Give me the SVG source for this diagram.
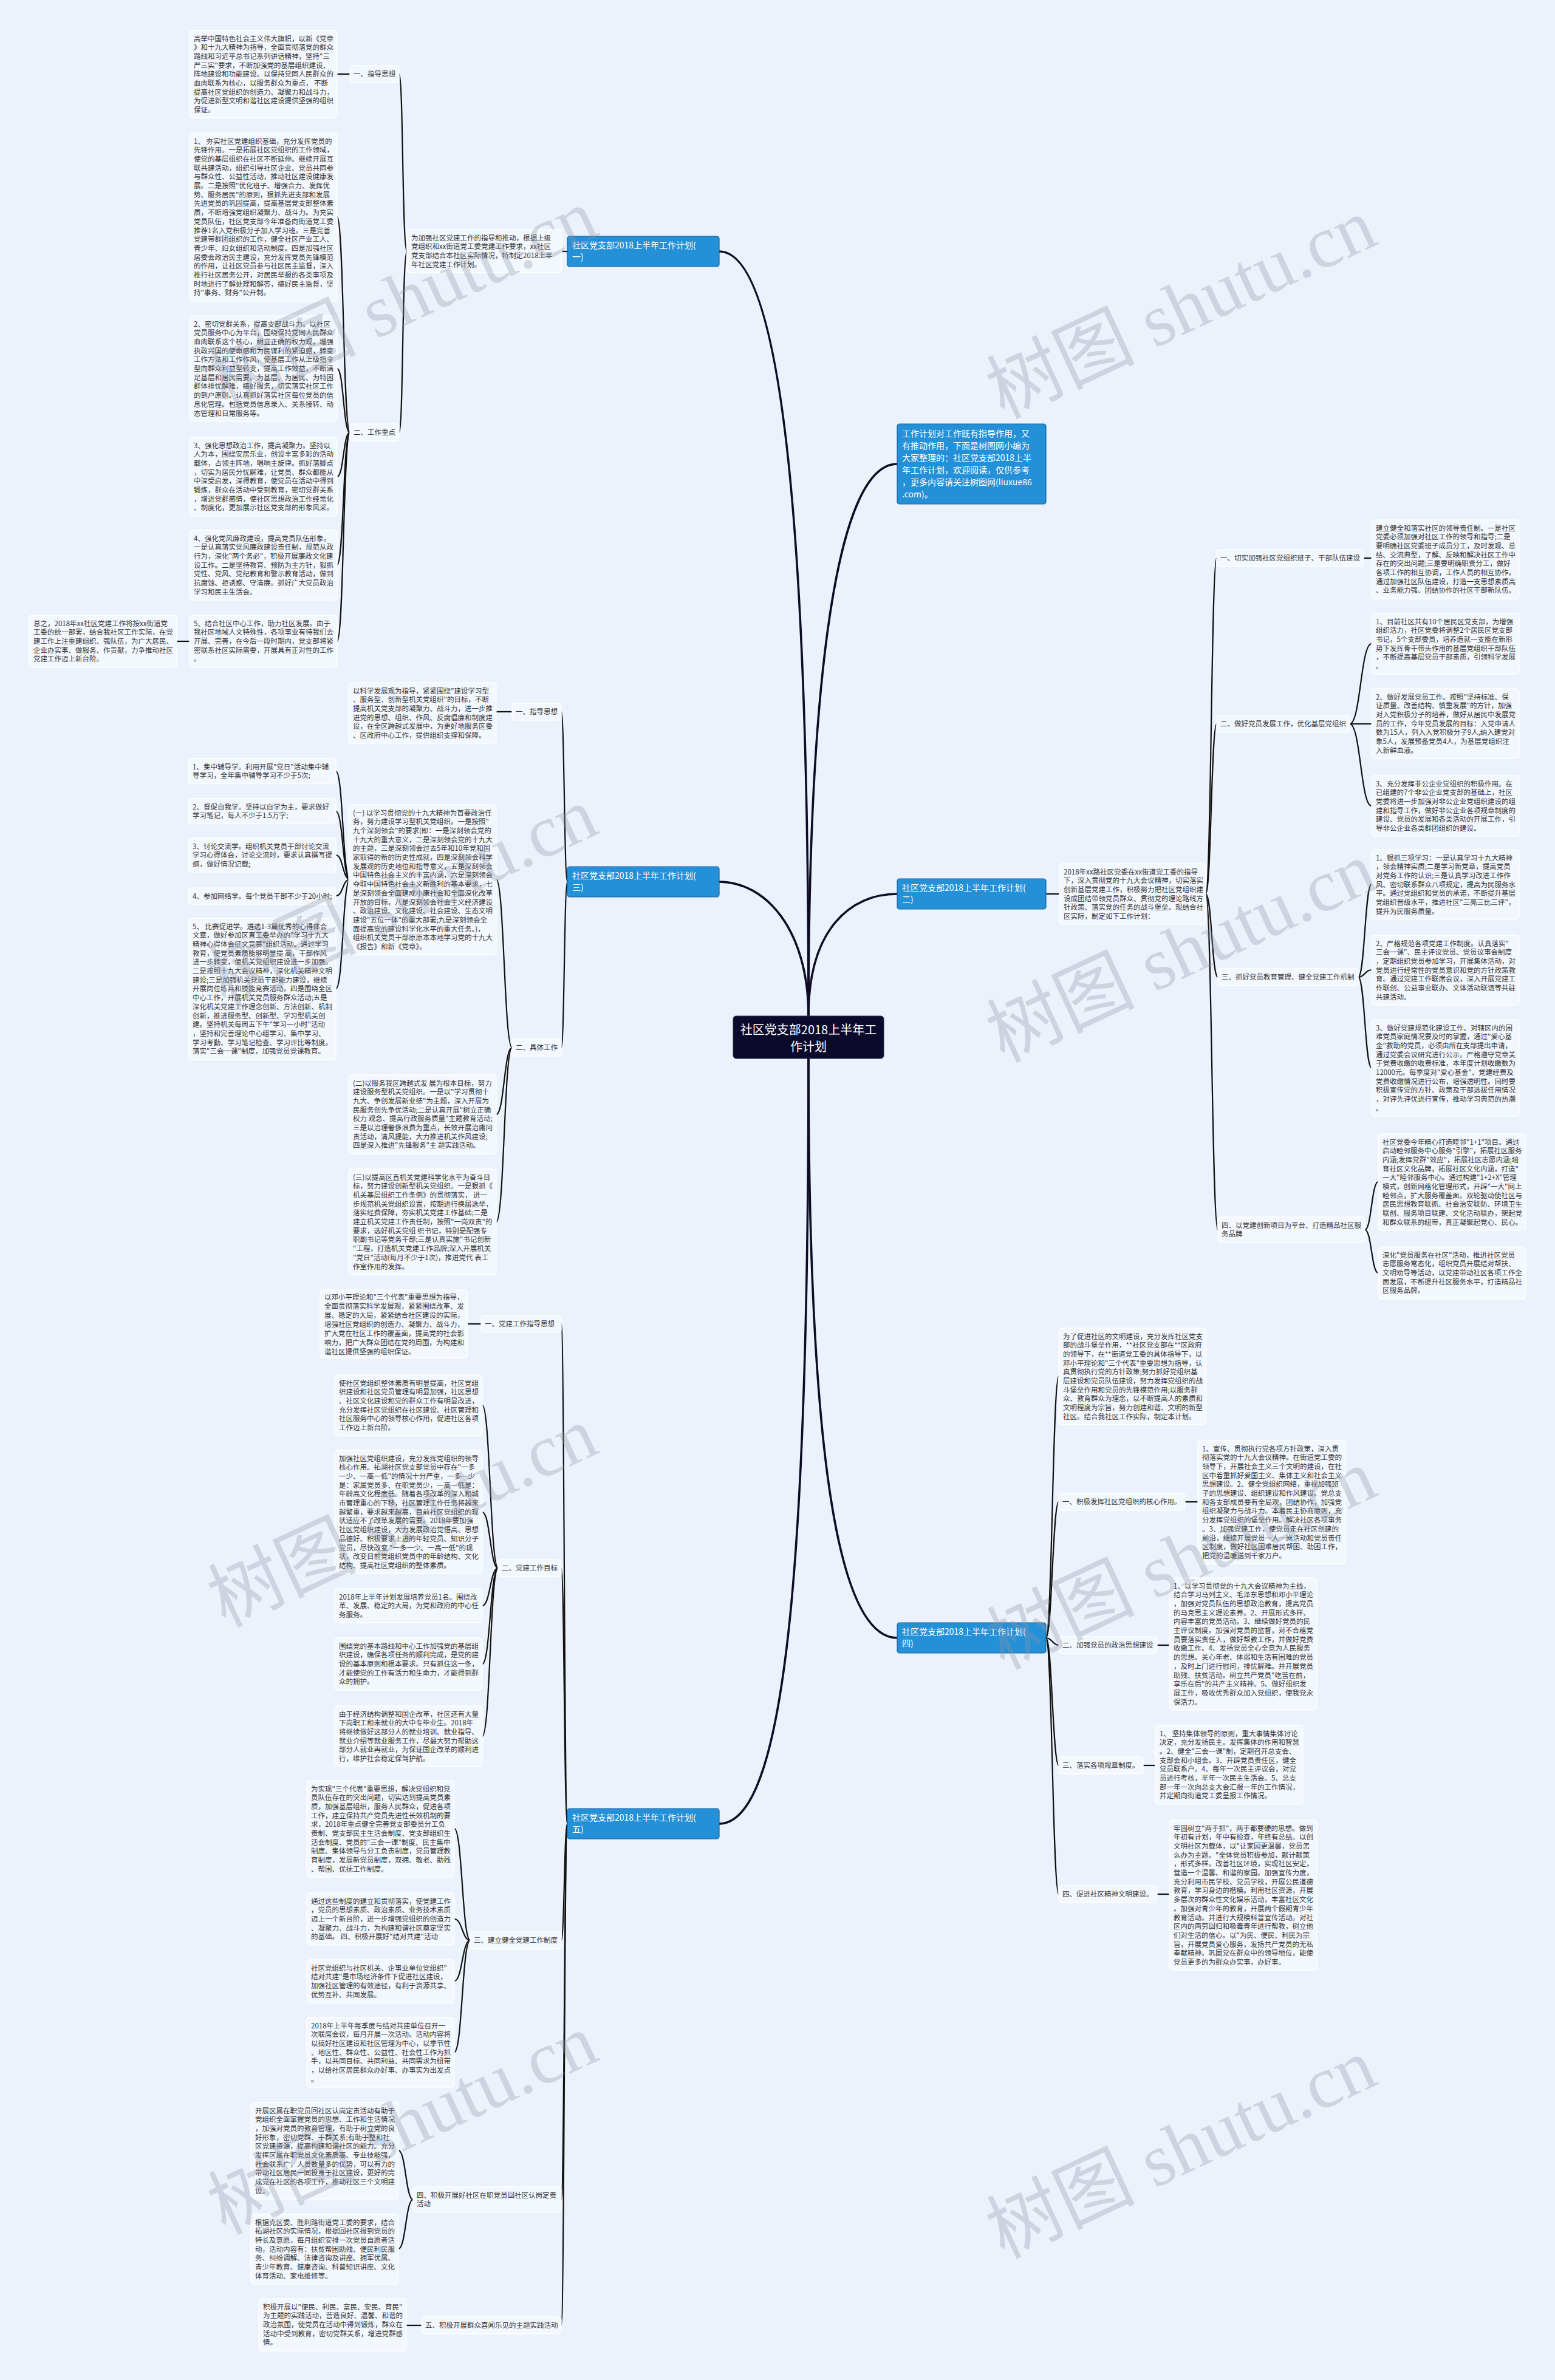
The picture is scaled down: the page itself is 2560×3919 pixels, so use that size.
<svg xmlns="http://www.w3.org/2000/svg" width="2560" height="3919" viewBox="0 0 2560 3919">
<style>
.t{font-family:"Noto Sans CJK SC","Noto Sans",sans-serif;font-size:11.5px;fill:#333}
.b{fill:#f3f7fe;stroke:#ffffff;stroke-width:1.3}
.n{fill:#2490d8;stroke:#16639c;stroke-width:1.2}
.nt{font-family:"Noto Sans CJK SC","Noto Sans",sans-serif;font-size:14px;fill:#fff}
.c{fill:none;stroke:#111;stroke-width:2.2}
.m{fill:none;stroke:#0e0c24;stroke-width:3.6}
.w{font-family:"Liberation Serif","Noto Sans CJK SC",serif;font-size:122px;fill:#8e97a8;opacity:.32}
</style>
<rect width="2560" height="3919" fill="#ecf2fc"/>

<g id="connectors">
<path class="m" d="M1331,1673 C1331,900 1290,414 1184,414"/>
<path class="m" d="M1331,1673 C1331,1100 1380,764 1477,764"/>
<path class="m" d="M1331,1673 C1331,1530 1260,1452 1184,1452"/>
<path class="m" d="M1331,1673 C1331,1530 1400,1472 1477,1472"/>
<path class="m" d="M1331,1743 C1331,2600 1290,3003 1184,3003"/>
<path class="m" d="M1331,1743 C1331,2400 1380,2697 1477,2697"/>
<path class="c" d="M925,414 L934,414"/>
<path class="c" d="M670,414 C662,414 664,122 657,122"/>
<path class="c" d="M670,414 C662,414 664,712 657,712"/>
<path class="c" d="M576,122 L555,122"/>
<path class="c" d="M576,712 C565,712 566,357 555,357"/>
<path class="c" d="M576,712 C565,712 566,607 555,607"/>
<path class="c" d="M576,712 C565,712 566,785 555,785"/>
<path class="c" d="M576,712 C565,712 566,930 555,930"/>
<path class="c" d="M576,712 C565,712 566,1056 555,1056"/>
<path class="c" d="M312,1056 L291,1056"/>
<path class="c" d="M924,1172 C929,1172 929,1452 934,1452"/>
<path class="c" d="M924,1725 C929,1725 929,1452 934,1452"/>
<path class="c" d="M817,1172 L843,1172"/>
<path class="c" d="M843,1725 C830,1725 830,1448 817,1448"/>
<path class="c" d="M843,1725 C830,1725 830,1835 817,1835"/>
<path class="c" d="M843,1725 C830,1725 830,2012 817,2012"/>
<path class="c" d="M576,1448 C564,1448 565,1270 553,1270"/>
<path class="c" d="M576,1448 C564,1448 565,1336 553,1336"/>
<path class="c" d="M576,1448 C564,1448 565,1408 553,1408"/>
<path class="c" d="M576,1448 C564,1448 565,1475 553,1475"/>
<path class="c" d="M576,1448 C564,1448 565,1628 553,1628"/>
<path class="c" d="M924,2180 C929,2180 929,3003 934,3003"/>
<path class="c" d="M924,2582 C929,2582 929,3003 934,3003"/>
<path class="c" d="M924,3195 C929,3195 929,3003 934,3003"/>
<path class="c" d="M924,3622 C929,3622 929,3003 934,3003"/>
<path class="c" d="M924,3829 C929,3829 929,3003 934,3003"/>
<path class="c" d="M770,2180 L792,2180"/>
<path class="c" d="M820,2582 C807,2582 807,2314 794,2314"/>
<path class="c" d="M820,2582 C807,2582 807,2490 794,2490"/>
<path class="c" d="M820,2582 C807,2582 807,2644 794,2644"/>
<path class="c" d="M820,2582 C807,2582 807,2740 794,2740"/>
<path class="c" d="M820,2582 C807,2582 807,2859 794,2859"/>
<path class="c" d="M774,3195 C761,3195 761,3011 748,3011"/>
<path class="c" d="M774,3195 C761,3195 761,3160 748,3160"/>
<path class="c" d="M774,3195 C761,3195 761,3262 748,3262"/>
<path class="c" d="M774,3195 C761,3195 761,3379 748,3379"/>
<path class="c" d="M680,3622 C668,3622 668,3541 656,3541"/>
<path class="c" d="M680,3622 C668,3622 668,3703 656,3703"/>
<path class="c" d="M694,3829 L669,3829"/>
<path class="c" d="M1722,1472 L1744,1472"/>
<path class="c" d="M1985,1472 C1994,1472 1994,919 2003,919"/>
<path class="c" d="M1985,1472 C1994,1472 1994,1192 2003,1192"/>
<path class="c" d="M1985,1472 C1995,1472 1995,1609 2005,1609"/>
<path class="c" d="M1985,1472 C1995,1472 1995,2025 2005,2025"/>
<path class="c" d="M2245,919 L2258,919"/>
<path class="c" d="M2222,1192 C2240,1192 2240,1060 2258,1060"/>
<path class="c" d="M2222,1192 L2258,1192"/>
<path class="c" d="M2222,1192 C2240,1192 2240,1327 2258,1327"/>
<path class="c" d="M2236,1609 C2247,1609 2247,1456 2258,1456"/>
<path class="c" d="M2236,1609 C2247,1609 2247,1597 2258,1597"/>
<path class="c" d="M2236,1609 C2247,1609 2247,1758 2258,1758"/>
<path class="c" d="M2247,2025 C2258,2025 2258,1946 2269,1946"/>
<path class="c" d="M2247,2025 C2258,2025 2258,2096 2269,2096"/>
<path class="c" d="M1722,2697 C1732,2697 1733,2266 1743,2266"/>
<path class="c" d="M1722,2697 C1732,2697 1733,2473 1743,2473"/>
<path class="c" d="M1722,2697 C1732,2697 1733,2709 1743,2709"/>
<path class="c" d="M1722,2697 C1732,2697 1733,2907 1743,2907"/>
<path class="c" d="M1722,2697 C1732,2697 1733,3119 1743,3119"/>
<path class="c" d="M1951,2473 L1972,2473"/>
<path class="c" d="M1905,2709 L1925,2709"/>
<path class="c" d="M1882,2907 L1902,2907"/>
<path class="c" d="M1905,3119 L1925,3119"/>
</g>

<g id="center">
<rect x="1207" y="1673" width="248" height="70" rx="5" fill="#0c0a2c" stroke="#2a2a44"/>
<text font-family="Noto Sans CJK SC, sans-serif" font-size="20" fill="#fff" text-anchor="middle"><tspan x="1331" y="1703">社区党支部2018上半年工</tspan><tspan x="1331" y="1731">作计划</tspan></text>
</g>

<g id="intro">
<rect class="n" x="1477" y="698" width="245" height="132" rx="4"/>
<text class="nt"><tspan x="1485" y="719">工作计划对工作既有指导作用，又</tspan><tspan x="1485" dy="20">有推动作用，下面是树图网小编为</tspan><tspan x="1485" dy="20">大家整理的：社区党支部2018上半</tspan><tspan x="1485" dy="20">年工作计划，欢迎阅读，仅供参考</tspan><tspan x="1485" dy="20">，更多内容请关注树图网(liuxue86</tspan><tspan x="1485" dy="20">.com)。</tspan></text>
</g>

<g id="branch1">
<rect class="n" x="934" y="389" width="250" height="50" rx="4"/>
<text class="nt"><tspan x="942" y="409">社区党支部2018上半年工作计划(</tspan><tspan x="942" dy="19">一)</tspan></text>
</g>
<g id="b1-mid">
<rect class="b" x="670" y="378" width="255" height="71" rx="5"/>
<text class="t"><tspan x="677" y="395.5">为加强社区党建工作的指导和推动，根据上级</tspan><tspan x="677" dy="14.7">党组织和xx街道党工委党建工作要求，xx社区</tspan><tspan x="677" dy="14.7">党支部结合本社区实际情况，特制定2018上半</tspan><tspan x="677" dy="14.7">年社区党建工作计划。</tspan></text>
</g>
<g id="b1-l1"><rect class="b" x="576" y="108" width="81" height="28" rx="5"/><text class="t" x="582" y="126">一、指导思想</text></g>
<g id="b1-l2"><rect class="b" x="576" y="698" width="81" height="28" rx="5"/><text class="t" x="582" y="716">二、工作重点</text></g>
<g id="b1-p0">
<rect class="b" x="312" y="50" width="243" height="144" rx="5"/>
<text class="t"><tspan x="319" y="67.5">高举中国特色社会主义伟大旗帜，以新《党章</tspan><tspan x="319" dy="14.7">》和十九大精神为指导，全面贯彻落党的群众</tspan><tspan x="319" dy="14.7">路线和习近平总书记系列讲话精神，坚持"三</tspan><tspan x="319" dy="14.7">严三实"要求，不断加强党的基层组织建设、</tspan><tspan x="319" dy="14.7">阵地建设和功能建设。以保持党同人民群众的</tspan><tspan x="319" dy="14.7">血肉联系为核心，以服务群众为重点， 不断</tspan><tspan x="319" dy="14.7">提高社区党组织的创造力、凝聚力和战斗力，</tspan><tspan x="319" dy="14.7">为促进新型文明和谐社区建设提供坚强的组织</tspan><tspan x="319" dy="14.7">保证。</tspan></text>
</g>
<g id="b1-i1">
<rect class="b" x="312" y="219" width="243" height="277" rx="5"/>
<text class="t"><tspan x="319" y="236.5">1、 夯实社区党建组织基础，充分发挥党员的</tspan><tspan x="319" dy="14.7">先锋作用。一是拓展社区党组织的工作领域，</tspan><tspan x="319" dy="14.7">使党的基层组织在社区不断延伸。继续开展互</tspan><tspan x="319" dy="14.7">联共建活动，组织引导社区企业、党员共同参</tspan><tspan x="319" dy="14.7">与群众性、公益性活动，推动社区建设健康发</tspan><tspan x="319" dy="14.7">展。二是按照"优化班子、增强合力、发挥优</tspan><tspan x="319" dy="14.7">势、服务居民"的原则，狠抓先进支部和发展</tspan><tspan x="319" dy="14.7">先进党员的巩固提高，提高基层党支部整体素</tspan><tspan x="319" dy="14.7">质，不断增强党组织凝聚力、战斗力。为充实</tspan><tspan x="319" dy="14.7">党员队伍，社区党支部今年准备向街道党工委</tspan><tspan x="319" dy="14.7">推荐1名入党积极分子加入学习班。三是完善</tspan><tspan x="319" dy="14.7">党建带群团组织的工作，健全社区产业工人、</tspan><tspan x="319" dy="14.7">青少年、妇女组织和活动制度。四是加强社区</tspan><tspan x="319" dy="14.7">居委会政治民主建设，充分发挥党员先锋模范</tspan><tspan x="319" dy="14.7">的作用，让社区党员参与社区民主监督，深入</tspan><tspan x="319" dy="14.7">推行社区居务公开，对居民举报的各类事项及</tspan><tspan x="319" dy="14.7">时地进行了解处理和解答，搞好民主监督，坚</tspan><tspan x="319" dy="14.7">持"事务、财务"公开制。</tspan></text>
</g>
<g id="b1-i2">
<rect class="b" x="312" y="520" width="243" height="174" rx="5"/>
<text class="t"><tspan x="319" y="537.5">2、密切党群关系，提高支部战斗力。以社区</tspan><tspan x="319" dy="14.7">党员服务中心为平台，围绕保持党同人民群众</tspan><tspan x="319" dy="14.7">血肉联系这个核心，树立正确的权力观，增强</tspan><tspan x="319" dy="14.7">执政兴国的使命感和为民谋利的紧迫感，转变</tspan><tspan x="319" dy="14.7">工作方法和工作作风，使基层工作从上级指令</tspan><tspan x="319" dy="14.7">型向群众利益型转变，提高工作效益，不断满</tspan><tspan x="319" dy="14.7">足基层和居民需要。为基层、为居民、为特困</tspan><tspan x="319" dy="14.7">群体排忧解难，搞好服务，切实落实社区工作</tspan><tspan x="319" dy="14.7">的到户原则。认真抓好落实社区每位党员的信</tspan><tspan x="319" dy="14.7">息化管理。包括党员信息录入、关系接转、动</tspan><tspan x="319" dy="14.7">态管理和日常服务等。</tspan></text>
</g>
<g id="b1-i3">
<rect class="b" x="312" y="720" width="243" height="130" rx="5"/>
<text class="t"><tspan x="319" y="737.5">3、强化思想政治工作，提高凝聚力。坚持以</tspan><tspan x="319" dy="14.7">人为本，围绕安居乐业，创设丰富多彩的活动</tspan><tspan x="319" dy="14.7">载体，占领主阵地，唱响主旋律。抓好落脚点</tspan><tspan x="319" dy="14.7">，切实为居民分忧解难，让党员、群众都能从</tspan><tspan x="319" dy="14.7">中深受启发，深得教育，使党员在活动中得到</tspan><tspan x="319" dy="14.7">锻炼，群众在活动中受到教育，密切党群关系</tspan><tspan x="319" dy="14.7">，增进党群感情，使社区思想政治工作经常化</tspan><tspan x="319" dy="14.7">、制度化，更加展示社区党支部的形象风采。</tspan></text>
</g>
<g id="b1-i4">
<rect class="b" x="312" y="873" width="243" height="115" rx="5"/>
<text class="t"><tspan x="319" y="890.5">4、强化党风廉政建设，提高党员队伍形象。</tspan><tspan x="319" dy="14.7">一是认真落实党风廉政建设责任制，规范从政</tspan><tspan x="319" dy="14.7">行为，深化"两个务必"，积极开展廉政文化建</tspan><tspan x="319" dy="14.7">设工作。二是坚持教育、预防为主方针，狠抓</tspan><tspan x="319" dy="14.7">党性、党风、党纪教育和警示教育活动，做到</tspan><tspan x="319" dy="14.7">抗腐蚀、拒诱惑、守清廉。抓好广大党员政治</tspan><tspan x="319" dy="14.7">学习和民主生活会。</tspan></text>
</g>
<g id="b1-i5">
<rect class="b" x="312" y="1013" width="243" height="86" rx="5"/>
<text class="t"><tspan x="319" y="1030.5">5、结合社区中心工作，助力社区发展。由于</tspan><tspan x="319" dy="14.7">我社区地域人文特殊性，各项事业有待我们去</tspan><tspan x="319" dy="14.7">开展、完善，在今后一段时期内，党支部将紧</tspan><tspan x="319" dy="14.7">密联系社区实际需要，开展具有正对性的工作</tspan><tspan x="319" dy="14.7">。</tspan></text>
</g>
<g id="b1-sum">
<rect class="b" x="48" y="1013" width="243" height="86" rx="5"/>
<text class="t"><tspan x="55" y="1030.5">总之，2018年xx社区党建工作将按xx街道党</tspan><tspan x="55" dy="14.7">工委的统一部署，结合我社区工作实际，在党</tspan><tspan x="55" dy="14.7">建工作上注重建组织、强队伍，为广大居民、</tspan><tspan x="55" dy="14.7">企业办实事、做服务、作贡献，力争推动社区</tspan><tspan x="55" dy="14.7">党建工作迈上新台阶。</tspan></text>
</g>

<g id="branch3">
<rect class="n" x="934" y="1427" width="250" height="50" rx="4"/>
<text class="nt"><tspan x="942" y="1447">社区党支部2018上半年工作计划(</tspan><tspan x="942" dy="19">三)</tspan></text>
</g>
<g id="b3-l1"><rect class="b" x="843" y="1158" width="81" height="28" rx="5"/><text class="t" x="849" y="1176">一、指导思想</text></g>
<g id="b3-l2"><rect class="b" x="843" y="1711" width="81" height="28" rx="5"/><text class="t" x="849" y="1729">二、具体工作</text></g>
<g id="b3-p1">
<rect class="b" x="574" y="1124" width="243" height="100" rx="5"/>
<text class="t"><tspan x="581" y="1141.5">以科学发展观为指导，紧紧围绕"建设学习型</tspan><tspan x="581" dy="14.7">、服务型、创新型机关党组织"的目标，不断</tspan><tspan x="581" dy="14.7">提高机关党支部的凝聚力、战斗力，进一步推</tspan><tspan x="581" dy="14.7">进党的思想、组织、作风、反腐倡廉和制度建</tspan><tspan x="581" dy="14.7">设，在全区跨越式发展中，为更好地服务区委</tspan><tspan x="581" dy="14.7">、区政府中心工作，提供组织支撑和保障。</tspan></text>
</g>
<g id="b3-s1">
<rect class="b" x="574" y="1325" width="243" height="247" rx="5"/>
<text class="t"><tspan x="581" y="1342.5">(一) 以学习贯彻党的十九大精神为首要政治任</tspan><tspan x="581" dy="14.7">务，努力建设学习型机关党组织。一是按照"</tspan><tspan x="581" dy="14.7">九个深刻领会"的要求(即：一是深刻领会党的</tspan><tspan x="581" dy="14.7">十九大的重大意义，二是深刻领会党的十九大</tspan><tspan x="581" dy="14.7">的主题，三是深刻领会过去5年和10年党和国</tspan><tspan x="581" dy="14.7">家取得的新的历史性成就，四是深刻领会科学</tspan><tspan x="581" dy="14.7">发展观的历史地位和指导意义，五是深刻领会</tspan><tspan x="581" dy="14.7">中国特色社会主义的丰富内涵，六是深刻领会</tspan><tspan x="581" dy="14.7">夺取中国特色社会主义新胜利的基本要求，七</tspan><tspan x="581" dy="14.7">是深刻领会全面建成小康社会和全面深化改革</tspan><tspan x="581" dy="14.7">开放的目标，八是深刻领会社会主义经济建设</tspan><tspan x="581" dy="14.7">、政治建设、文化建设、社会建设、生态文明</tspan><tspan x="581" dy="14.7">建设"五位一体"的重大部署;九是深刻领会全</tspan><tspan x="581" dy="14.7">面提高党的建设科学化水平的重大任务。)，</tspan><tspan x="581" dy="14.7">组织机关党员干部原原本本地学习党的十九大</tspan><tspan x="581" dy="14.7">《报告》和新《党章》。</tspan></text>
</g>
<g id="b3-s2">
<rect class="b" x="574" y="1770" width="243" height="130" rx="5"/>
<text class="t"><tspan x="581" y="1787.5">(二)以服务我区跨越式发 展为根本目标，努力</tspan><tspan x="581" dy="14.7">建设服务型机关党组织。一是以"学习贯彻十</tspan><tspan x="581" dy="14.7">九大、争创发展新业绩"为主题，深入开展为</tspan><tspan x="581" dy="14.7">民服务创先争优活动;二是认真开展"树立正确</tspan><tspan x="581" dy="14.7">权力 观念、提高行政服务质量"主题教育活动;</tspan><tspan x="581" dy="14.7">三是以治理奢侈浪费为重点，长效开展治庸问</tspan><tspan x="581" dy="14.7">责活动，清风提能，大力推进机关作风建设;</tspan><tspan x="581" dy="14.7">四是深入推进"先锋服务"主 题实践活动。</tspan></text>
</g>
<g id="b3-s3">
<rect class="b" x="574" y="1925" width="243" height="174" rx="5"/>
<text class="t"><tspan x="581" y="1942.5">(三)以提高区直机关党建科学化水平为奋斗目</tspan><tspan x="581" dy="14.7">标，努力建设创新型机关党组织。一是狠抓《</tspan><tspan x="581" dy="14.7">机关基层组织工作条例》的贯彻落实， 进一</tspan><tspan x="581" dy="14.7">步规范机关党组织设置，按期进行换届选举，</tspan><tspan x="581" dy="14.7">落实经费保障，夯实机关党建工作基础;二是</tspan><tspan x="581" dy="14.7">建立机关党建工作责任制，按照"一岗双责"的</tspan><tspan x="581" dy="14.7">要求，选好机关党组 织书记，特别是配强专</tspan><tspan x="581" dy="14.7">职副书记等党务干部;三是认真实施"书记创新</tspan><tspan x="581" dy="14.7">"工程，打造机关党建工作品牌;深入开展机关</tspan><tspan x="581" dy="14.7">"党日"活动(每月不少于1次)，推进党代 表工</tspan><tspan x="581" dy="14.7">作室作用的发挥。</tspan></text>
</g>
<g id="b3-i1"><rect class="b" x="310" y="1249" width="243" height="41" rx="5"/><text class="t"><tspan x="317" y="1266.5">1、集中辅导学。利用开展"党日"活动集中辅</tspan><tspan x="317" dy="14.7">导学习，全年集中辅导学习不少于5次;</tspan></text></g>
<g id="b3-i2"><rect class="b" x="310" y="1315" width="243" height="41" rx="5"/><text class="t"><tspan x="317" y="1332.5">2、督促自我学。坚持以自学为主，要求做好</tspan><tspan x="317" dy="14.7">学习笔记，每人不少于1.5万字;</tspan></text></g>
<g id="b3-i3"><rect class="b" x="310" y="1380" width="243" height="56" rx="5"/><text class="t"><tspan x="317" y="1397.5">3、讨论交流学。组织机关党员干部讨论交流</tspan><tspan x="317" dy="14.7">学习心得体会，讨论交流时，要求认真撰写提</tspan><tspan x="317" dy="14.7">纲，做好情况记载;</tspan></text></g>
<g id="b3-i4"><rect class="b" x="310" y="1462" width="243" height="27" rx="5"/><text class="t" x="317" y="1479.5">4、参加网络学。每个党员干部不少于20小时;</text></g>
<g id="b3-i5">
<rect class="b" x="310" y="1512" width="243" height="233" rx="5"/>
<text class="t"><tspan x="317" y="1529.5">5、 比赛促进学。遴选1-3篇优秀的心得体会</tspan><tspan x="317" dy="14.7">文章，做好参加区直工委举办的"学习十九大</tspan><tspan x="317" dy="14.7">精神心得体会征文竞赛"组织活动。通过学习</tspan><tspan x="317" dy="14.7">教育，使党员素质能够明显提 高，干部作风</tspan><tspan x="317" dy="14.7">进一步转变，使机关党组织建设进一步加强。</tspan><tspan x="317" dy="14.7">二是按照十九大会议精神，深化机关精神文明</tspan><tspan x="317" dy="14.7">建设;三是加强机关党员干部能力建设，继续</tspan><tspan x="317" dy="14.7">开展岗位练兵和技能竞赛活动。四是围绕全区</tspan><tspan x="317" dy="14.7">中心工作，开展机关党员服务群众活动;五是</tspan><tspan x="317" dy="14.7">深化机关党建工作理念创新、方法创新、机制</tspan><tspan x="317" dy="14.7">创新，推进服务型、创新型、学习型机关创</tspan><tspan x="317" dy="14.7">建。坚持机关每周五下午"学习一小时"活动</tspan><tspan x="317" dy="14.7">，坚持和完善理论中心组学习、集中学习、</tspan><tspan x="317" dy="14.7">学习考勤、学习笔记检查、学习评比等制度。</tspan><tspan x="317" dy="14.7">落实"三会一课"制度，加强党员党课教育。</tspan></text>
</g>

<g id="branch5">
<rect class="n" x="934" y="2978" width="250" height="50" rx="4"/>
<text class="nt"><tspan x="942" y="2998">社区党支部2018上半年工作计划(</tspan><tspan x="942" dy="19">五)</tspan></text>
</g>
<g id="b5-l1"><rect class="b" x="792" y="2166" width="132" height="28" rx="5"/><text class="t" x="798" y="2184">一、党建工作指导思想</text></g>
<g id="b5-p1">
<rect class="b" x="527" y="2124" width="243" height="112" rx="5"/>
<text class="t"><tspan x="534" y="2140">以邓小平理论和"三个代表"重要思想为指导，</tspan><tspan x="534" dy="15">全面贯彻落实科学发展观，紧紧围绕改革、发</tspan><tspan x="534" dy="15">展、稳定的大局，紧紧结合社区建设的实际，</tspan><tspan x="534" dy="15">增强社区党组织的创造力、凝聚力、战斗力，</tspan><tspan x="534" dy="15">扩大党在社区工作的覆盖面，提高党的社会影</tspan><tspan x="534" dy="15">响力，把广大群众团结在党的周围，为构建和</tspan><tspan x="534" dy="15">谐社区提供坚强的组织保证。</tspan></text>
</g>
<g id="b5-l2"><rect class="b" x="820" y="2568" width="104" height="28" rx="5"/><text class="t" x="826" y="2586">二、党建工作目标</text></g>
<g id="b5-a1"><rect class="b" x="551" y="2264" width="243" height="100" rx="5"/><text class="t"><tspan x="558" y="2281.5">使社区党组织整体素质有明显提高，社区党组</tspan><tspan x="558" dy="14.7">织建设和社区党员管理有明显加强，社区思想</tspan><tspan x="558" dy="14.7">、社区文化建设和党的群众工作有明显改进，</tspan><tspan x="558" dy="14.7">充分发挥社区党组织在社区建设、社区管理和</tspan><tspan x="558" dy="14.7">社区服务中心的领导核心作用，促进社区各项</tspan><tspan x="558" dy="14.7">工作迈上新台阶。</tspan></text></g>
<g id="b5-a2"><rect class="b" x="551" y="2388" width="243" height="203" rx="5"/><text class="t"><tspan x="558" y="2405.5">加强社区党组织建设，充分发挥党组织的领导</tspan><tspan x="558" dy="14.7">核心作用。拓湖社区党支部党员中存在"一多</tspan><tspan x="558" dy="14.7">一少、一高一低"的情况十分严重，一多一少</tspan><tspan x="558" dy="14.7">是：家属党员多、在职党员少，一高一低是：</tspan><tspan x="558" dy="14.7">年龄高文化程度低。随着各项改革的深入和城</tspan><tspan x="558" dy="14.7">市管理重心的下移，社区管理工作任务将越来</tspan><tspan x="558" dy="14.7">越繁重，要求越来越高，目前社区党组织的现</tspan><tspan x="558" dy="14.7">状适应不了改革发展的需要。2018年要加强</tspan><tspan x="558" dy="14.7">社区党组织建设，大力发展政治觉悟高、思想</tspan><tspan x="558" dy="14.7">品德好、积极要求上进的年轻党员、知识分子</tspan><tspan x="558" dy="14.7">党员，尽快改变 "一多一少、一高一低"的现</tspan><tspan x="558" dy="14.7">状，改变目前党组织党员中的年龄结构、文化</tspan><tspan x="558" dy="14.7">结构、提高社区党组织的整体素质。</tspan></text></g>
<g id="b5-a3"><rect class="b" x="551" y="2616" width="243" height="56" rx="5"/><text class="t"><tspan x="558" y="2633.5">2018年上半年计划发展培养党员1名。围绕改</tspan><tspan x="558" dy="14.7">革、发展、稳定的大局，为党和政府的中心任</tspan><tspan x="558" dy="14.7">务服务。</tspan></text></g>
<g id="b5-a4"><rect class="b" x="551" y="2697" width="243" height="86" rx="5"/><text class="t"><tspan x="558" y="2714.5">围绕党的基本路线和中心工作加强党的基层组</tspan><tspan x="558" dy="14.7">织建设，确保各项任务的顺利完成，是党的建</tspan><tspan x="558" dy="14.7">设的基本原则和根本要求。只有抓住这一条，</tspan><tspan x="558" dy="14.7">才能使党的工作有活力和生命力，才能得到群</tspan><tspan x="558" dy="14.7">众的拥护。</tspan></text></g>
<g id="b5-a5"><rect class="b" x="551" y="2809" width="243" height="100" rx="5"/><text class="t"><tspan x="558" y="2826.5">由于经济结构调整和国企改革，社区还有大量</tspan><tspan x="558" dy="14.7">下岗职工和未就业的大中专毕业生。2018年</tspan><tspan x="558" dy="14.7">将继续做好这部分人的就业培训、就业指导、</tspan><tspan x="558" dy="14.7">就业介绍等就业服务工作，尽最大努力帮助这</tspan><tspan x="558" dy="14.7">部分人就业再就业，为保证国企改革的顺利进</tspan><tspan x="558" dy="14.7">行，维护社会稳定保驾护航。</tspan></text></g>
<g id="b5-l3"><rect class="b" x="774" y="3181" width="150" height="28" rx="5"/><text class="t" x="780" y="3199">三、建立健全党建工作制度</text></g>
<g id="b5-c1"><rect class="b" x="505" y="2932" width="243" height="159" rx="5"/><text class="t"><tspan x="512" y="2949.5">为实现"三个代表"重要思想，解决党组织和党</tspan><tspan x="512" dy="14.7">员队伍存在的突出问题，切实达到提高党员素</tspan><tspan x="512" dy="14.7">质，加强基层组织，服务人民群众，促进各项</tspan><tspan x="512" dy="14.7">工作，建立保持共产党员先进性长效机制的要</tspan><tspan x="512" dy="14.7">求，2018年重点健全完善党支部委员分工负</tspan><tspan x="512" dy="14.7">责制、党支部民主生活会制度、党支部组织生</tspan><tspan x="512" dy="14.7">活会制度、党员的"三会一课"制度、民主集中</tspan><tspan x="512" dy="14.7">制度、集体领导与分工负责制度，党员管理教</tspan><tspan x="512" dy="14.7">育制度，发展新党员制度，双拥、敬老、助残</tspan><tspan x="512" dy="14.7">、帮困、优抚工作制度。</tspan></text></g>
<g id="b5-c2"><rect class="b" x="505" y="3117" width="243" height="86" rx="5"/><text class="t"><tspan x="512" y="3134.5">通过这些制度的建立和贯彻落实，使党建工作</tspan><tspan x="512" dy="14.7">，党员的思想素质、政治素质、业务技术素质</tspan><tspan x="512" dy="14.7">迈上一个新台阶，进一步增强党组织的创造力</tspan><tspan x="512" dy="14.7">、凝聚力、战斗力，为构建和谐社区奠定坚实</tspan><tspan x="512" dy="14.7">的基础。 四、积极开展好"结对共建"活动</tspan></text></g>
<g id="b5-c3"><rect class="b" x="505" y="3227" width="243" height="71" rx="5"/><text class="t"><tspan x="512" y="3244.5">社区党组织与社区机关、企事业单位党组织"</tspan><tspan x="512" dy="14.7">结对共建"是市场经济条件下促进社区建设，</tspan><tspan x="512" dy="14.7">加强社区管理的有效途径，有利于资源共享、</tspan><tspan x="512" dy="14.7">优势互补、共同发展。</tspan></text></g>
<g id="b5-c4"><rect class="b" x="505" y="3322" width="243" height="115" rx="5"/><text class="t"><tspan x="512" y="3339.5">2018年上半年每季度与结对共建单位召开一</tspan><tspan x="512" dy="14.7">次联席会议，每月开展一次活动。活动内容将</tspan><tspan x="512" dy="14.7">以搞好社区建设和社区管理为中心，以季节性</tspan><tspan x="512" dy="14.7">、地区性、群众性、公益性、社会性工作为抓</tspan><tspan x="512" dy="14.7">手，以共同目标、共同利益、共同需求为纽带</tspan><tspan x="512" dy="14.7">，以给社区居民群众办好事、办事实为出发点</tspan><tspan x="512" dy="14.7">。</tspan></text></g>
<g id="b5-l4"><rect class="b" x="680" y="3601" width="244" height="42" rx="5"/><text class="t"><tspan x="686" y="3618.5">四、积极开展好社区在职党员回社区认岗定责</tspan><tspan x="686" dy="14.7">活动</tspan></text></g>
<g id="b5-d1"><rect class="b" x="413" y="3462" width="243" height="159" rx="5"/><text class="t"><tspan x="420" y="3479.5">开展区属在职党员回社区认岗定责活动有助于</tspan><tspan x="420" dy="14.7">党组织全面掌握党员的思想、工作和生活情况</tspan><tspan x="420" dy="14.7">，加强对党员的教育管理，有助于树立党的良</tspan><tspan x="420" dy="14.7">好形象，密切党群、干群关系;有助于整和社</tspan><tspan x="420" dy="14.7">区党建资源，提高构建和谐社区的能力。充分</tspan><tspan x="420" dy="14.7">发挥区属在职党员文化素质高、专业技能强，</tspan><tspan x="420" dy="14.7">社会联系广，人员数量多的优势，可以有力的</tspan><tspan x="420" dy="14.7">带动社区居民一同投身于社区建设，更好的完</tspan><tspan x="420" dy="14.7">成党在社区的各项工作，推动社区三个文明建</tspan><tspan x="420" dy="14.7">设。</tspan></text></g>
<g id="b5-d2"><rect class="b" x="413" y="3646" width="243" height="115" rx="5"/><text class="t"><tspan x="420" y="3663.5">根据克区委、胜利路街道党工委的要求，结合</tspan><tspan x="420" dy="14.7">拓湖社区的实际情况，根据回社区报到党员的</tspan><tspan x="420" dy="14.7">特长及意愿，每月组织安排一次党员自愿者活</tspan><tspan x="420" dy="14.7">动，活动内容有：扶贫帮困助残、便民利民服</tspan><tspan x="420" dy="14.7">务、纠纷调解、法律咨询及讲座、拥军优属、</tspan><tspan x="420" dy="14.7">青少年教育、健康咨询、科普知识讲座、文化</tspan><tspan x="420" dy="14.7">体育活动、家电维修等。</tspan></text></g>
<g id="b5-l5"><rect class="b" x="694" y="3815" width="230" height="28" rx="5"/><text class="t" x="700" y="3833">五、积极开展群众喜闻乐见的主题实践活动</text></g>
<g id="b5-e1"><rect class="b" x="426" y="3785" width="243" height="86" rx="5"/><text class="t"><tspan x="433" y="3802.5">积极开展以"便民、利民、富民、安民、育民"</tspan><tspan x="433" dy="14.7">为主题的实践活动，营造良好、温馨、和谐的</tspan><tspan x="433" dy="14.7">政治氛围，使党员在活动中得到锻炼，群众在</tspan><tspan x="433" dy="14.7">活动中受到教育，密切党群关系，增进党群感</tspan><tspan x="433" dy="14.7">情。</tspan></text></g>

<g id="branch2">
<rect class="n" x="1477" y="1447" width="245" height="50" rx="4"/>
<text class="nt"><tspan x="1485" y="1467">社区党支部2018上半年工作计划(</tspan><tspan x="1485" dy="19">二)</tspan></text>
</g>
<g id="b2-p"><rect class="b" x="1744" y="1422" width="241" height="100" rx="5"/><text class="t"><tspan x="1751" y="1439.5">2018年xx路社区党委在xx街道党工委的指导</tspan><tspan x="1751" dy="14.7">下，深入贯彻党的十九大会议精神，切实落实</tspan><tspan x="1751" dy="14.7">创新基层党建工作，积极努力把社区党组织建</tspan><tspan x="1751" dy="14.7">设成团结带领党员群众、贯彻党的理论路线方</tspan><tspan x="1751" dy="14.7">针政策、落实党的任务的战斗堡垒。现结合社</tspan><tspan x="1751" dy="14.7">区实际，制定如下工作计划：</tspan></text></g>
<g id="b2-l1"><rect class="b" x="2003" y="905" width="242" height="28" rx="5"/><text class="t" x="2009" y="923">一、切实加强社区党组织班子、干部队伍建设</text></g>
<g id="b2-l2"><rect class="b" x="2003" y="1178" width="219" height="28" rx="5"/><text class="t" x="2009" y="1196">二、做好党员发展工作，优化基层党组织</text></g>
<g id="b2-l3"><rect class="b" x="2005" y="1595" width="231" height="28" rx="5"/><text class="t" x="2011" y="1613">三、抓好党员教育管理、健全党建工作机制</text></g>
<g id="b2-l4"><rect class="b" x="2005" y="2004" width="242" height="42" rx="5"/><text class="t"><tspan x="2011" y="2021.5">四、以党建创新项目为平台、打造精品社区服</tspan><tspan x="2011" dy="14.7">务品牌</tspan></text></g>
<g id="b2-a1"><rect class="b" x="2258" y="856" width="243" height="130" rx="5"/><text class="t"><tspan x="2265" y="873.5">建立健全和落实社区的领导责任制。一是社区</tspan><tspan x="2265" dy="14.7">党委必须加强对社区工作的领导和指导;二是</tspan><tspan x="2265" dy="14.7">要明确社区党委班子成员分工，及时发现、总</tspan><tspan x="2265" dy="14.7">结、交流典型，了解、反映和解决社区工作中</tspan><tspan x="2265" dy="14.7">存在的突出问题;三是要明确职责分工，做好</tspan><tspan x="2265" dy="14.7">各项工作的相互协调，工作人员的相互协作。</tspan><tspan x="2265" dy="14.7">通过加强社区队伍建设，打造一支思想素质高</tspan><tspan x="2265" dy="14.7">、业务能力强、团结协作的社区干部新队伍。</tspan></text></g>
<g id="b2-b1"><rect class="b" x="2258" y="1010" width="243" height="100" rx="5"/><text class="t"><tspan x="2265" y="1027.5">1、目前社区共有10个居民区党支部，为增强</tspan><tspan x="2265" dy="14.7">组织活力，社区党委将调整2个居民区党支部</tspan><tspan x="2265" dy="14.7">书记，5个支部委员，培养造就一支能在新形</tspan><tspan x="2265" dy="14.7">势下发挥骨干带头作用的基层党组织干部队伍</tspan><tspan x="2265" dy="14.7">，不断提高基层党员干部素质，引领科学发展</tspan><tspan x="2265" dy="14.7">。</tspan></text></g>
<g id="b2-b2"><rect class="b" x="2258" y="1134" width="243" height="115" rx="5"/><text class="t"><tspan x="2265" y="1151.5">2、做好发展党员工作。按照"坚持标准、保</tspan><tspan x="2265" dy="14.7">证质量、改善结构、慎重发展"的方针，加强</tspan><tspan x="2265" dy="14.7">对入党积极分子的培养，做好从居民中发展党</tspan><tspan x="2265" dy="14.7">员的工作，今年党员发展的目标：入党申请人</tspan><tspan x="2265" dy="14.7">数为15人，列入入党积极分子9人,纳入建党对</tspan><tspan x="2265" dy="14.7">象5人，发展预备党员4人，为基层党组织注</tspan><tspan x="2265" dy="14.7">入新鲜血液。</tspan></text></g>
<g id="b2-b3"><rect class="b" x="2258" y="1277" width="243" height="100" rx="5"/><text class="t"><tspan x="2265" y="1294.5">3、充分发挥非公企业党组织的积极作用。在</tspan><tspan x="2265" dy="14.7">已组建的7个非公企业党支部的基础上，社区</tspan><tspan x="2265" dy="14.7">党委将进一步加强对非公企业党组织建设的组</tspan><tspan x="2265" dy="14.7">建和指导工作，做好非公企业各项规章制度的</tspan><tspan x="2265" dy="14.7">建设、党员的发展和各类活动的开展工作，引</tspan><tspan x="2265" dy="14.7">导非公企业各类群团组织的建设。</tspan></text></g>
<g id="b2-c1"><rect class="b" x="2258" y="1399" width="243" height="115" rx="5"/><text class="t"><tspan x="2265" y="1416.5">1、狠抓三项学习：一是认真学习十九大精神</tspan><tspan x="2265" dy="14.7">，领会精神实质;二是学习新党章，提高党员</tspan><tspan x="2265" dy="14.7">对党务工作的认识;三是认真学习改进工作作</tspan><tspan x="2265" dy="14.7">风、密切联系群众八项规定，提高为民服务水</tspan><tspan x="2265" dy="14.7">平。通过党组织和党员的承诺，不断提升基层</tspan><tspan x="2265" dy="14.7">党组织晋级水平，推进社区"三亮三比三评"，</tspan><tspan x="2265" dy="14.7">提升为民服务质量。</tspan></text></g>
<g id="b2-c2"><rect class="b" x="2258" y="1540" width="243" height="115" rx="5"/><text class="t"><tspan x="2265" y="1557.5">2、严格规范各项党建工作制度。认真落实"</tspan><tspan x="2265" dy="14.7">三会一课"、民主评议党员、党员议事会制度</tspan><tspan x="2265" dy="14.7">，定期组织党员参加学习，开展集体活动，对</tspan><tspan x="2265" dy="14.7">党员进行经常性的党员意识和党的方针政策教</tspan><tspan x="2265" dy="14.7">育。通过党建工作联席会议，深入开展党建工</tspan><tspan x="2265" dy="14.7">作联创、公益事业联办、文体活动联谊等共驻</tspan><tspan x="2265" dy="14.7">共建活动。</tspan></text></g>
<g id="b2-c3"><rect class="b" x="2258" y="1679" width="243" height="159" rx="5"/><text class="t"><tspan x="2265" y="1696.5">3、做好党建规范化建设工作。对辖区内的困</tspan><tspan x="2265" dy="14.7">难党员家庭情况要及时的掌握，通过"爱心基</tspan><tspan x="2265" dy="14.7">金"救助的党员，必须由所在支部提出申请，</tspan><tspan x="2265" dy="14.7">通过党委会议研究进行公示。严格遵守党章关</tspan><tspan x="2265" dy="14.7">于党费收缴的收费标准，本年度计划收缴数为</tspan><tspan x="2265" dy="14.7">12000元。每季度对"爱心基金"、党建经费及</tspan><tspan x="2265" dy="14.7">党费收缴情况进行公布，增强透明性。同时要</tspan><tspan x="2265" dy="14.7">积极宣传党的方针、政策及干部选拔任用情况</tspan><tspan x="2265" dy="14.7">，对评先评优进行宣传，推动学习典范的热潮</tspan><tspan x="2265" dy="14.7">。</tspan></text></g>
<g id="b2-d1"><rect class="b" x="2269" y="1867" width="243" height="159" rx="5"/><text class="t"><tspan x="2276" y="1884.5">社区党委今年精心打造睦邻"1+1"项目。通过</tspan><tspan x="2276" dy="14.7">启动睦邻服务中心服务"引擎"，拓展社区服务</tspan><tspan x="2276" dy="14.7">内涵;发挥党群"效应"，拓展社区志愿内涵;培</tspan><tspan x="2276" dy="14.7">育社区文化品牌，拓展社区文化内涵，打造"</tspan><tspan x="2276" dy="14.7">一大"睦邻服务中心。通过构建"1+2+X"管理</tspan><tspan x="2276" dy="14.7">模式，创新网格化管理形式，开辟"一大"网上</tspan><tspan x="2276" dy="14.7">睦邻点，扩大服务覆盖面。双轮驱动使社区与</tspan><tspan x="2276" dy="14.7">居民思想教育联抓、社会治安联防、环境卫生</tspan><tspan x="2276" dy="14.7">联创、服务项目联建、文化活动联办，架起党</tspan><tspan x="2276" dy="14.7">和群众联系的纽带，真正凝聚起党心、民心。</tspan></text></g>
<g id="b2-d2"><rect class="b" x="2269" y="2053" width="243" height="86" rx="5"/><text class="t"><tspan x="2276" y="2070.5">深化"党员服务在社区"活动，推进社区党员</tspan><tspan x="2276" dy="14.7">志愿服务常态化，组织党员开展结对帮扶、</tspan><tspan x="2276" dy="14.7">文明劝导等活动，以党建带动社区各项工作全</tspan><tspan x="2276" dy="14.7">面发展，不断提升社区服务水平，打造精品社</tspan><tspan x="2276" dy="14.7">区服务品牌。</tspan></text></g>

<g id="branch4">
<rect class="n" x="1477" y="2672" width="245" height="50" rx="4"/>
<text class="nt"><tspan x="1485" y="2692">社区党支部2018上半年工作计划(</tspan><tspan x="1485" dy="19">四)</tspan></text>
</g>
<g id="b4-p"><rect class="b" x="1743" y="2187" width="243" height="159" rx="5"/><text class="t"><tspan x="1750" y="2204.5">为了促进社区的文明建设，充分发挥社区党支</tspan><tspan x="1750" dy="14.7">部的战斗堡垒作用，**社区党支部在**区政府</tspan><tspan x="1750" dy="14.7">的领导下，在**街道党工委的具体指导下，以</tspan><tspan x="1750" dy="14.7">邓小平理论和"三个代表"重要思想为指导，认</tspan><tspan x="1750" dy="14.7">真贯彻执行党的方针政策;努力抓好党组织基</tspan><tspan x="1750" dy="14.7">层建设和党员队伍建设，努力发挥党组织的战</tspan><tspan x="1750" dy="14.7">斗堡垒作用和党员的先锋模范作用;以服务群</tspan><tspan x="1750" dy="14.7">众、教育群众为理念，以不断提高人的素质和</tspan><tspan x="1750" dy="14.7">文明程度为宗旨，努力创建和谐、文明的新型</tspan><tspan x="1750" dy="14.7">社区。结合我社区工作实际，制定本计划。</tspan></text></g>
<g id="b4-l1"><rect class="b" x="1743" y="2459" width="208" height="28" rx="5"/><text class="t" x="1749" y="2477">一、积极发挥社区党组织的核心作用。</text></g>
<g id="b4-a"><rect class="b" x="1972" y="2372" width="243" height="203" rx="5"/><text class="t"><tspan x="1979" y="2389.5">1、宣传、贯彻执行党各项方针政策，深入贯</tspan><tspan x="1979" dy="14.7">彻落实党的十九大会议精神。在街道党工委的</tspan><tspan x="1979" dy="14.7">领导下，开展社会主义三个文明的建设，在社</tspan><tspan x="1979" dy="14.7">区中着重抓好爱国主义、集体主义和社会主义</tspan><tspan x="1979" dy="14.7">思想建设。2、健全党组织网络，重视加强班</tspan><tspan x="1979" dy="14.7">子的思想建设、组织建设和作风建设。党总支</tspan><tspan x="1979" dy="14.7">和各支部成员要有全局观，团结协作，加强党</tspan><tspan x="1979" dy="14.7">组织凝聚力与战斗力。本着民主协商原则，充</tspan><tspan x="1979" dy="14.7">分发挥党组织的堡垒作用。解决社区各项事务</tspan><tspan x="1979" dy="14.7">。3、加强党建工作，使党员走在社区创建的</tspan><tspan x="1979" dy="14.7">前沿，继续开展党员一人一岗活动和党员责任</tspan><tspan x="1979" dy="14.7">区制度，做好社区困难居民帮困、助困工作，</tspan><tspan x="1979" dy="14.7">把党的温暖送到千家万户。</tspan></text></g>
<g id="b4-l2"><rect class="b" x="1743" y="2695" width="162" height="28" rx="5"/><text class="t" x="1749" y="2713">二、加强党员的政治思想建设</text></g>
<g id="b4-b"><rect class="b" x="1925" y="2598" width="243" height="218" rx="5"/><text class="t"><tspan x="1932" y="2615.5">1、以学习贯彻党的十九大会议精神为主线，</tspan><tspan x="1932" dy="14.7">结合学习马列主义、毛泽东思想和邓小平理论</tspan><tspan x="1932" dy="14.7">，加强对党员队伍的思想政治教育，提高党员</tspan><tspan x="1932" dy="14.7">的马克思主义理论素养。2、开展形式多样、</tspan><tspan x="1932" dy="14.7">内容丰富的党员活动。3、继续做好党员的民</tspan><tspan x="1932" dy="14.7">主评议制度。加强对党员的监督，对不合格党</tspan><tspan x="1932" dy="14.7">员要落实责任人，做好帮教工作，并做好党费</tspan><tspan x="1932" dy="14.7">收缴工作。4、发扬党员全心全意为人民服务</tspan><tspan x="1932" dy="14.7">的思想。关心年老、体弱和生活有困难的党员</tspan><tspan x="1932" dy="14.7">，及时上门进行慰问，排忧解难。并开展党员</tspan><tspan x="1932" dy="14.7">助残、扶贫活动。树立共产党员"吃苦在前，</tspan><tspan x="1932" dy="14.7">享乐在后"的共产主义精神。5、做好组织发</tspan><tspan x="1932" dy="14.7">展工作，吸收优秀群众加入党组织，使我党永</tspan><tspan x="1932" dy="14.7">保活力。</tspan></text></g>
<g id="b4-l3"><rect class="b" x="1743" y="2893" width="139" height="28" rx="5"/><text class="t" x="1749" y="2911">三、落实各项规章制度。</text></g>
<g id="b4-c"><rect class="b" x="1902" y="2841" width="243" height="130" rx="5"/><text class="t"><tspan x="1909" y="2858.5">1、 坚持集体领导的原则，重大事情集体讨论</tspan><tspan x="1909" dy="14.7">决定，充分发扬民主。发挥集体的作用和智慧</tspan><tspan x="1909" dy="14.7">。2、健全"三会一课"制，定期召开总支会、</tspan><tspan x="1909" dy="14.7">支部会和小组会。3、开辟党员责任区，健全</tspan><tspan x="1909" dy="14.7">党员联系户。4、每年一次民主评议会，对党</tspan><tspan x="1909" dy="14.7">员进行考核，半年一次民主生活会。5、总支</tspan><tspan x="1909" dy="14.7">部一年一次向总支大会汇报一年的工作情况，</tspan><tspan x="1909" dy="14.7">并定期向街道党工委呈报工作情况。</tspan></text></g>
<g id="b4-l4"><rect class="b" x="1743" y="3105" width="162" height="28" rx="5"/><text class="t" x="1749" y="3123">四、促进社区精神文明建设。</text></g>
<g id="b4-d"><rect class="b" x="1925" y="2997" width="243" height="247" rx="5"/><text class="t"><tspan x="1932" y="3014.5">牢固树立"两手抓"，两手都要硬的思想。做到</tspan><tspan x="1932" dy="14.7">年初有计划，年中有检查，年终有总结。以创</tspan><tspan x="1932" dy="14.7">文明社区为载体，以"让家园更温馨，党员怎</tspan><tspan x="1932" dy="14.7">么办为主题。"全体党员积极参加，献计献策</tspan><tspan x="1932" dy="14.7">，形式多样。改善社区环境，实现社区安定，</tspan><tspan x="1932" dy="14.7">营造一个温馨、和谐的家园。加强宣传力度，</tspan><tspan x="1932" dy="14.7">充分利用市民学校、党员学校，开展公民道德</tspan><tspan x="1932" dy="14.7">教育，学习身边的楷模。利用社区资源，开展</tspan><tspan x="1932" dy="14.7">多层次的群众性文化娱乐活动，丰富社区文化</tspan><tspan x="1932" dy="14.7">。加强对青少年的教育，开展两个假期青少年</tspan><tspan x="1932" dy="14.7">教育活动。并进行大规模科普宣传活动。对社</tspan><tspan x="1932" dy="14.7">区内的两劳回归和吸毒青年进行帮教，树立他</tspan><tspan x="1932" dy="14.7">们对生活的信心。以"为民、便民、利民为宗</tspan><tspan x="1932" dy="14.7">旨，开展党员爱心服务，发扬共产党员的无私</tspan><tspan x="1932" dy="14.7">奉献精神。巩固党在群众中的领导地位，能使</tspan><tspan x="1932" dy="14.7">党员更多的为群众办实事，办好事。</tspan></text></g>

<g id="watermarks">
<text class="w" x="680" y="530" text-anchor="middle" transform="rotate(-25 680 530)">树图 shutu.cn</text>
<text class="w" x="1962" y="545" text-anchor="middle" transform="rotate(-25 1962 545)">树图 shutu.cn</text>
<text class="w" x="680" y="1515" text-anchor="middle" transform="rotate(-25 680 1515)">树图 shutu.cn</text>
<text class="w" x="1962" y="1605" text-anchor="middle" transform="rotate(-25 1962 1605)">树图 shutu.cn</text>
<text class="w" x="680" y="2535" text-anchor="middle" transform="rotate(-25 680 2535)">树图 shutu.cn</text>
<text class="w" x="1962" y="2605" text-anchor="middle" transform="rotate(-25 1962 2605)">树图 shutu.cn</text>
<text class="w" x="680" y="3535" text-anchor="middle" transform="rotate(-25 680 3535)">树图 shutu.cn</text>
<text class="w" x="1962" y="3575" text-anchor="middle" transform="rotate(-25 1962 3575)">树图 shutu.cn</text>
</g>
</svg>
